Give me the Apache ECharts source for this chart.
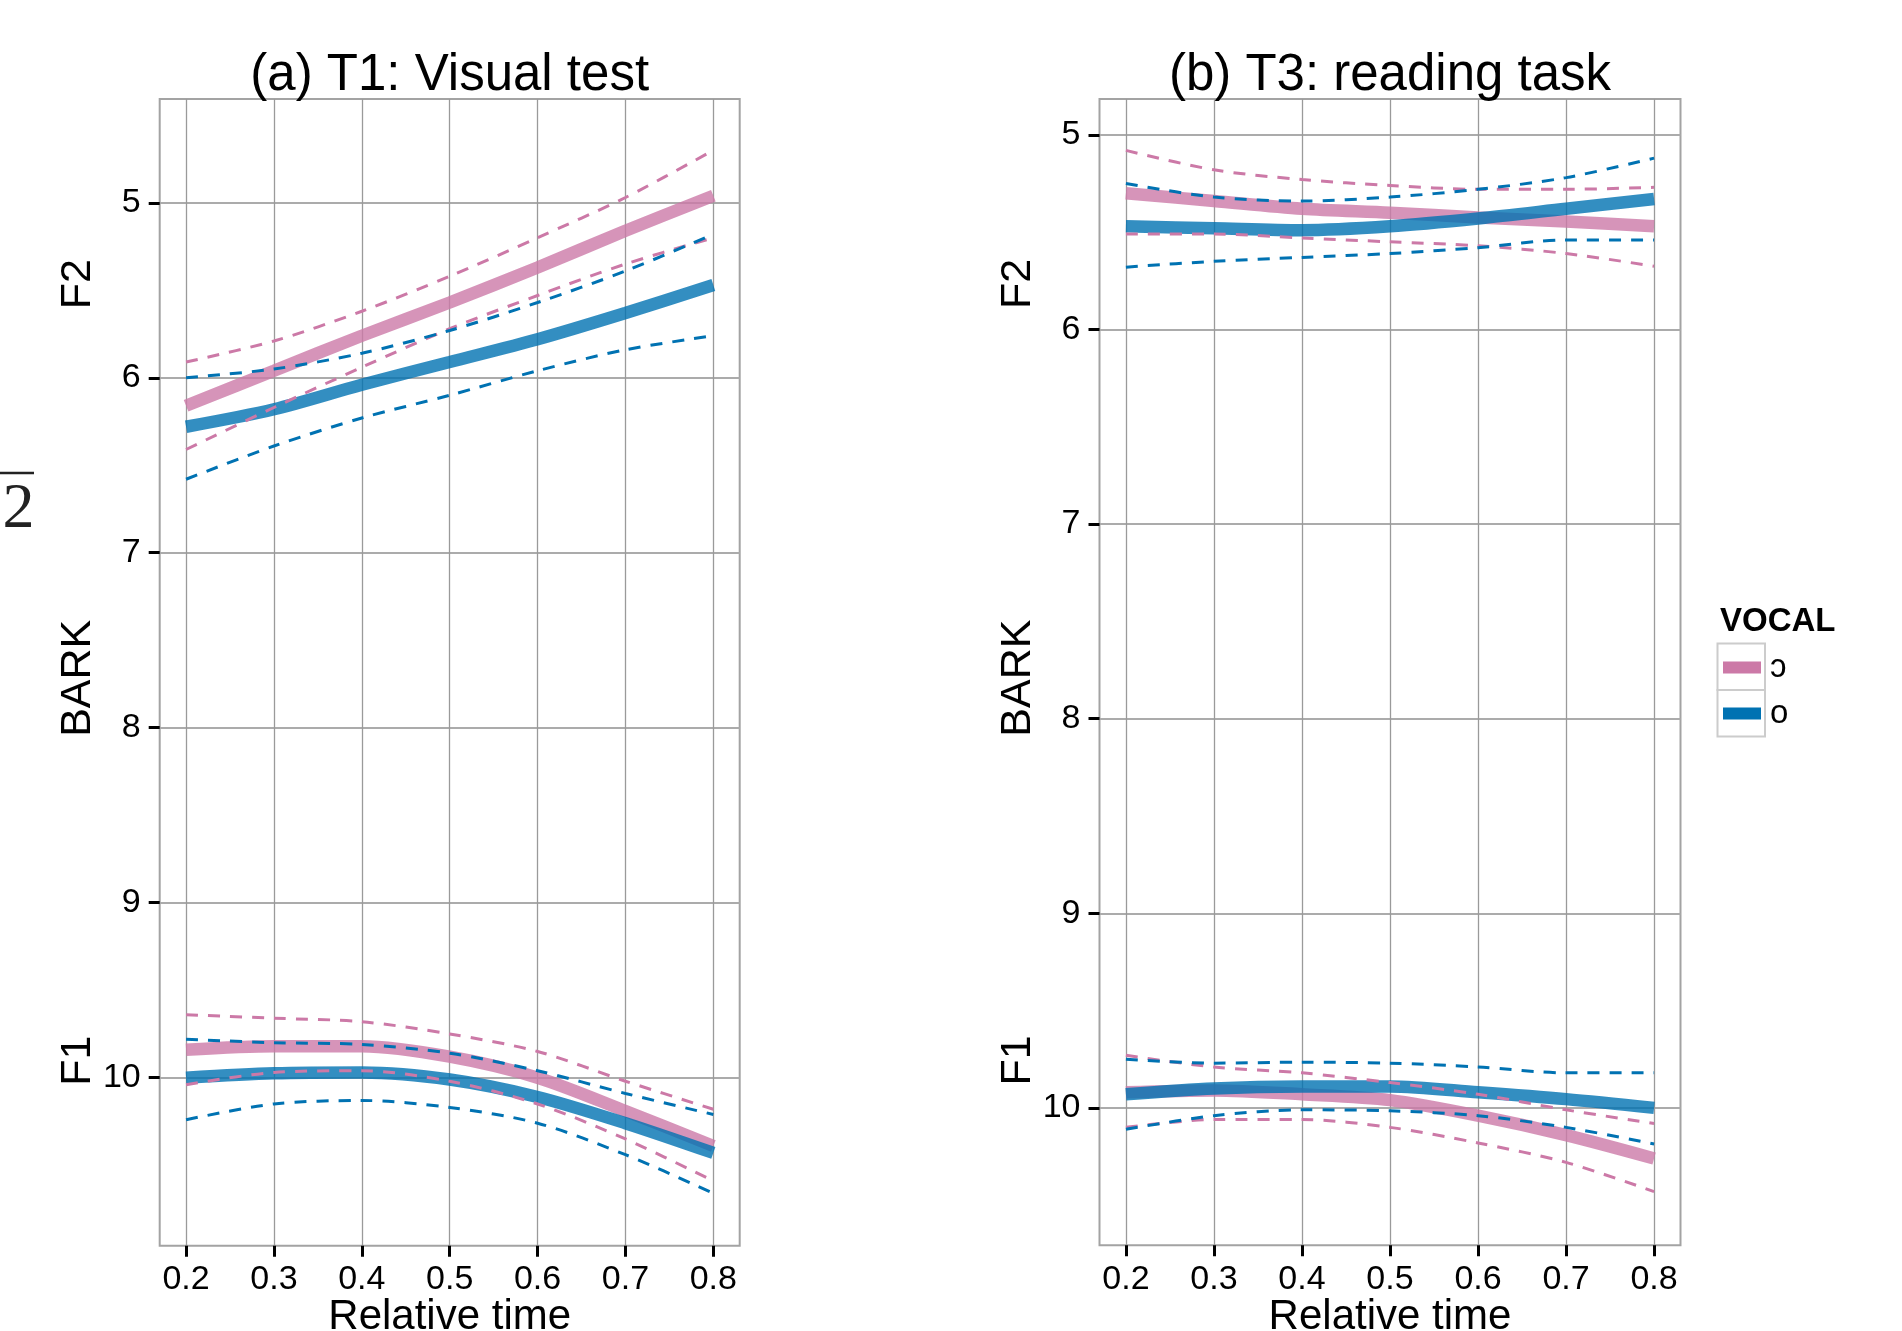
<!DOCTYPE html>
<html>
<head>
<meta charset="utf-8">
<title>BARK trajectories by vowel</title>
<script src="https://cdn.jsdelivr.net/npm/echarts@6/dist/echarts.min.js"></script>
<style>
  html, body { margin: 0; padding: 0; background: #fff; }
  #chart { width: 1902px; height: 1331px; }
</style>
</head>
<body>
<div id="chart"></div>
<script>
// x values and ticks
const relTime = [0.2, 0.3, 0.4, 0.5, 0.6, 0.7, 0.8];
const xTicks = [0.2, 0.3, 0.4, 0.5, 0.6, 0.7, 0.8];
const yTicks = [5, 6, 7, 8, 9, 10];
const vowels = ['ɔ', 'o'];
const panelTitles = ['(a) T1: Visual test', '(b) T3: reading task'];

// (a) T1 visual test - fitted curve + the two dashed bounds, in BARK
const t1F2OpenFit = [6.16, 5.96, 5.76, 5.57, 5.37, 5.16, 4.96];
const t1F2OpenHi  = [5.91, 5.79, 5.62, 5.42, 5.20, 4.97, 4.70];
const t1F2OpenLo  = [6.41, 6.17, 5.94, 5.72, 5.53, 5.35, 5.20];
const t1F2CloseFit = [6.28, 6.18, 6.04, 5.91, 5.78, 5.63, 5.47];
const t1F2CloseHi  = [6.00, 5.95, 5.86, 5.73, 5.57, 5.39, 5.18];
const t1F2CloseLo  = [6.58, 6.39, 6.23, 6.10, 5.96, 5.84, 5.76];
const t1F1OpenFit = [9.84, 9.82, 9.82, 9.88, 10.00, 10.19, 10.39];
const t1F1OpenHi  = [9.64, 9.66, 9.68, 9.75, 9.85, 10.02, 10.18];
const t1F1OpenLo  = [10.04, 9.97, 9.96, 10.02, 10.15, 10.35, 10.59];
const t1F1CloseFit = [10.00, 9.975, 9.97, 10.01, 10.11, 10.26, 10.43];
const t1F1CloseHi  = [9.78, 9.80, 9.81, 9.86, 9.96, 10.09, 10.21];
const t1F1CloseLo  = [10.24, 10.15, 10.13, 10.17, 10.26, 10.44, 10.66];

// (b) T3 reading task
const t3F2OpenFit = [5.30, 5.34, 5.38, 5.40, 5.425, 5.445, 5.47];
const t3F2OpenHi  = [5.08, 5.18, 5.23, 5.26, 5.28, 5.28, 5.27];
const t3F2OpenLo  = [5.51, 5.51, 5.53, 5.55, 5.57, 5.61, 5.675];
const t3F2CloseFit = [5.47, 5.48, 5.49, 5.47, 5.43, 5.38, 5.33];
const t3F2CloseHi  = [5.25, 5.32, 5.34, 5.32, 5.28, 5.22, 5.12];
const t3F2CloseLo  = [5.68, 5.65, 5.63, 5.61, 5.58, 5.54, 5.54];
const t3F1OpenFit = [9.92, 9.91, 9.93, 9.96, 10.04, 10.14, 10.26];
const t3F1OpenHi  = [9.73, 9.79, 9.82, 9.87, 9.93, 10.01, 10.08];
const t3F1OpenLo  = [10.10, 10.06, 10.06, 10.10, 10.18, 10.28, 10.43];
const t3F1CloseFit = [9.93, 9.90, 9.89, 9.89, 9.92, 9.955, 10.00];
const t3F1CloseHi  = [9.75, 9.77, 9.765, 9.77, 9.79, 9.82, 9.82];
const t3F1CloseLo  = [10.11, 10.04, 10.01, 10.015, 10.04, 10.10, 10.185];

const PINK = '#CC79A7';
const BLUE = '#0072B2';
const FONT = '"Liberation Sans", Arial, Helvetica, sans-serif';
// ggplot-style y label: F1 at the bottom, BARK in the middle, F2 at the top
const yName = 'F1' + ' '.repeat(25) + 'BARK' + ' '.repeat(26) + 'F2';

function pts(ys) {
  return relTime.map((t, i) => [t, ys[i]]);
}

// one vowel / one formant: thick fit + 2 dashed lines
function trio(vowel, color, fit, hi, lo, idx) {
  const base = { type: 'line', xAxisIndex: idx, yAxisIndex: idx, symbol: 'none',
                 smooth: 0.3, silent: true };
  return [
    Object.assign({}, base, { name: vowel, data: pts(fit), z: 2,
      itemStyle: { color: color },
      lineStyle: { color: color, width: 12.5, opacity: 0.8 } }),
    Object.assign({}, base, { name: vowel + ' ci', data: pts(hi), z: 3,
      itemStyle: { color: color },
      lineStyle: { color: color, width: 3, type: [12, 10] } }),
    Object.assign({}, base, { name: vowel + ' ci', data: pts(lo), z: 3,
      itemStyle: { color: color },
      lineStyle: { color: color, width: 3, type: [12, 10] } })
  ];
}

const series = [].concat(
  trio(vowels[0], PINK, t1F2OpenFit, t1F2OpenHi, t1F2OpenLo, 0),
  trio(vowels[1], BLUE, t1F2CloseFit, t1F2CloseHi, t1F2CloseLo, 0),
  trio(vowels[0], PINK, t1F1OpenFit, t1F1OpenHi, t1F1OpenLo, 0),
  trio(vowels[1], BLUE, t1F1CloseFit, t1F1CloseHi, t1F1CloseLo, 0),
  trio(vowels[0], PINK, t3F2OpenFit, t3F2OpenHi, t3F2OpenLo, 1),
  trio(vowels[1], BLUE, t3F2CloseFit, t3F2CloseHi, t3F2CloseLo, 1),
  trio(vowels[0], PINK, t3F1OpenFit, t3F1OpenHi, t3F1OpenLo, 1),
  trio(vowels[1], BLUE, t3F1CloseFit, t3F1CloseHi, t3F1CloseLo, 1)
);

function xAxisFor(idx) {
  return {
    type: 'value', gridIndex: idx, min: 0.17, max: 0.83,
    name: 'Relative time', nameLocation: 'middle', nameGap: 51, nameMoveOverlap: false,
    nameTextStyle: { fontSize: 42, color: '#000', fontFamily: FONT },
    axisLine: { show: false },
    axisTick: { customValues: xTicks, length: 11, lineStyle: { color: '#000', width: 3 } },
    axisLabel: { customValues: xTicks, margin: 17, fontSize: 34, color: '#000', fontFamily: FONT,
                 formatter: v => v.toFixed(1) },
    splitLine: { show: true, lineStyle: { color: '#9a9a9a', width: 1.3 } }
  };
}

function yAxisFor(idx, min, max) {
  return {
    type: 'value', gridIndex: idx, inverse: true, min: min, max: max,
    name: yName, nameLocation: 'middle', nameGap: 60, nameMoveOverlap: false,
    nameTextStyle: { fontSize: 43, color: '#000', fontFamily: FONT },
    axisLine: { show: false },
    axisTick: { customValues: yTicks, length: 11, lineStyle: { color: '#000', width: 3 } },
    axisLabel: { customValues: yTicks, margin: 19, fontSize: 34, color: '#000', fontFamily: FONT },
    splitLine: { show: true, lineStyle: { color: '#ababab', width: 2 } }
  };
}

const chart = echarts.init(document.getElementById('chart'));
chart.setOption({
  animation: false,
  backgroundColor: '#fff',
  grid: [
    { left: 159.7, top: 99, width: 580, height: 1146.7, show: true, outerBoundsMode: 'none',
      borderColor: '#a3a3a3', borderWidth: 2, containLabel: false },
    { left: 1099.5, top: 99, width: 581, height: 1146.3, show: true, outerBoundsMode: 'none',
      borderColor: '#a3a3a3', borderWidth: 2, containLabel: false }
  ],
  xAxis: [xAxisFor(0), xAxisFor(1)],
  yAxis: [yAxisFor(0, 4.407, 10.96), yAxisFor(1, 4.816, 10.706)],
  legend: {
    data: [
      { name: vowels[0], itemStyle: { color: PINK, borderWidth: 0, opacity: 1 } },
      { name: vowels[1], itemStyle: { color: BLUE, borderWidth: 0, opacity: 1 } }
    ],
    orient: 'vertical', left: 1723, top: 644.5, padding: 0, itemGap: 0,
    itemWidth: 38, itemHeight: 12, icon: 'rect', selectedMode: false,
    textStyle: { fontSize: 33, lineHeight: 46, color: '#000', fontFamily: FONT, padding: [0, 0, 0, 4] }
  },
  graphic: [
    { type: 'text', x: 449.7, y: 76, style: { text: panelTitles[0], fontSize: 51, fontFamily: FONT,
      fill: '#000', align: 'center', verticalAlign: 'middle', textAlign: 'center', textVerticalAlign: 'middle' } },
    { type: 'text', x: 1390, y: 76, style: { text: panelTitles[1], fontSize: 51, fontFamily: FONT,
      fill: '#000', align: 'center', verticalAlign: 'middle', textAlign: 'center', textVerticalAlign: 'middle' } },
    { type: 'text', x: 1720, y: 621.5, style: { text: 'VOCAL', fontSize: 33, fontWeight: 'bold', fontFamily: FONT,
      fill: '#000', align: 'left', verticalAlign: 'middle', textAlign: 'left', textVerticalAlign: 'middle' } },
    { type: 'rect', z: 1, shape: { x: 1717.5, y: 643.5, width: 47.5, height: 46.5 },
      style: { fill: null, stroke: '#cccccc', lineWidth: 2 } },
    { type: 'rect', z: 1, shape: { x: 1717.5, y: 690, width: 47.5, height: 46.5 },
      style: { fill: null, stroke: '#cccccc', lineWidth: 2 } },
    // stray piece of a neighbouring formula at the left edge
    { type: 'line', shape: { x1: 0, y1: 473, x2: 34, y2: 473 },
      style: { stroke: '#222', lineWidth: 2.5 } },
    { type: 'text', x: 18.5, y: 510.5, style: { text: '2', fontSize: 64, fontFamily: '"Liberation Serif", "DejaVu Serif", serif',
      fill: '#222', align: 'center', verticalAlign: 'middle', textAlign: 'center', textVerticalAlign: 'middle' } }
  ],
  series: series
});
</script>
</body>
</html>
